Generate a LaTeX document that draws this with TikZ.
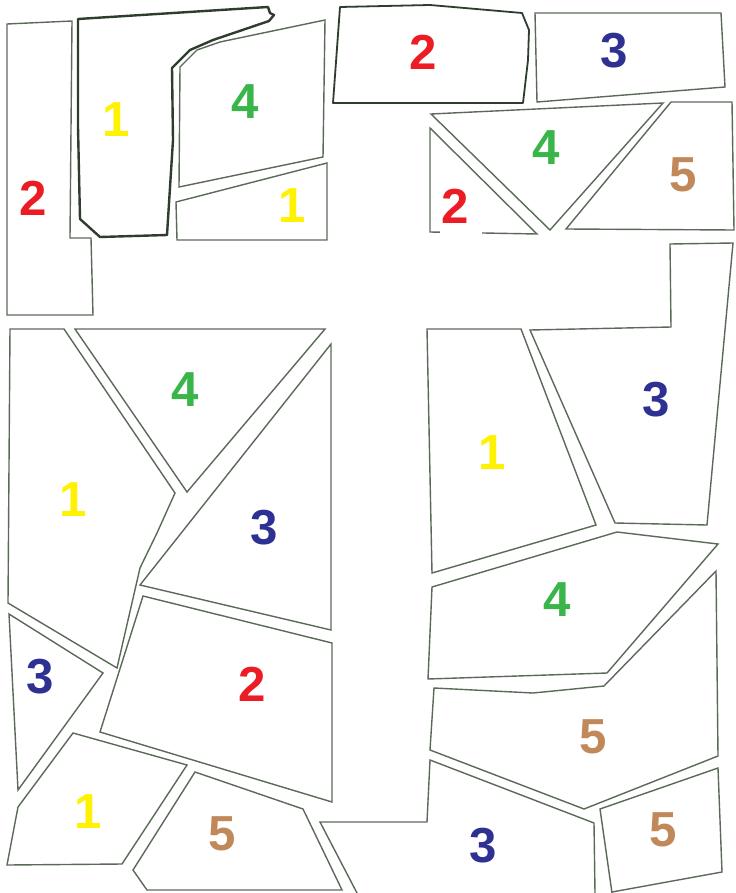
\documentclass[tikz,border=0pt]{standalone}
\usepackage{fontspec}
\setsansfont{Liberation Sans}
\usepackage{xcolor}
\usetikzlibrary{positioning}
\definecolor{edge}{HTML}{5B6A58}
\definecolor{edgeii}{HTML}{2F3D2F}
\definecolor{cred}{HTML}{EC1C24}
\definecolor{cyel}{HTML}{FFF200}
\definecolor{cgrn}{HTML}{39B54A}
\definecolor{cblu}{HTML}{2E3192}
\definecolor{cbrn}{HTML}{C1895A}
\tikzset{
  piece/.style    = {draw=edge, line width=0.35mm, line join=miter},
  piecemid/.style = {draw=edgeii, line width=0.45mm, line join=round},
  piecebold/.style= {draw=edgeii, line width=0.6mm, line join=round},
  num/.style      = {font=\fontsize{35}{38}\selectfont\sffamily\bfseries, inner sep=0pt, outer sep=0pt},
}

\begin{document}
\begin{tikzpicture}[x=0.25mm,y=-0.25mm]
\fill[white] (0,0) rectangle (735,893);
\path[use as bounding box] (0,0) rectangle (735,893);

% ---- top left block ------------------------------------------------------
\draw[piece] (7,24) -- (72,21) -- (70,238) -- (91,238) -- (93,315) -- (7,315) -- cycle;
\draw[piecebold] (78,19) -- (268,7) -- (270,13) -- (274,15) -- (269,21) -- (213,40)
  -- (190,50) -- (172,68) -- (173,140) -- (167,235) -- (100,237) -- (80,219) -- (78,127) -- cycle;
\draw[piece] (180,67) -- (197,50) -- (220,42) -- (325,20) -- (323,157) -- (179,187) -- cycle;
\draw[piece] (176,202) -- (327,163) -- (327,240) -- (177,240) -- cycle;

% ---- top right block -----------------------------------------------------
\draw[piecemid] (340,7) -- (430,5) -- (522,13) -- (529,30) -- (528,60) -- (523,103) -- (333,103) -- cycle;
\draw[piece] (535,13) -- (721,13) -- (725,87) -- (537,102) -- cycle;
\draw[piece] (431,114) -- (663,103) -- (550,230) -- cycle;
\draw[piece] (430,128) -- (537,234) -- (430,232) -- cycle;
\draw[piece] (671,102) -- (732,102) -- (734,230) -- (566,229) -- cycle;

% ---- lower left block ----------------------------------------------------
\draw[piece] (10,329) -- (64,329) -- (175,493) -- (157,533) -- (140,568) -- (117,668) -- (8,603) -- cycle;
\draw[piece] (75,329) -- (325,329) -- (187,492) -- cycle;
\draw[piece] (331,344) -- (331,630) -- (140,585) -- cycle;
\draw[piece] (143,596) -- (332,643) -- (332,802) -- (100,732) -- cycle;
\draw[piece] (9,614) -- (103,673) -- (18,790) -- cycle;
\draw[piece] (73,733) -- (187,765) -- (122,864) -- (7,865) -- (18,807) -- cycle;
\draw[piece] (195,772) -- (303,809) -- (342,890) -- (147,890) -- (133,870) -- cycle;

% ---- lower right block ---------------------------------------------------
\draw[piece] (670,244) -- (733,243) -- (707,525) -- (615,523) -- (530,330) -- (671,327) -- cycle;
\draw[piece] (427,329) -- (521,329) -- (596,525) -- (432,573) -- cycle;
\draw[piece] (432,587) -- (617,532) -- (718,544) -- (607,673) -- (428,679) -- cycle;
\draw[piece] (434,688) -- (533,693) -- (604,686) -- (716,571) -- (718,756) -- (584,809) -- (430,750) -- cycle;
% runs off the lower edge of the sheet
\draw[piece] (357,893) -- (320,822) -- (427,822) -- (430,760) -- (594,823) -- (595,893);
\draw[piece] (612,893) -- (600,809) -- (718,768) -- (722,872) -- (612,892);

% ---- numbers -------------------------------------------------------------
% white patch that hides part of the small triangle's lower edge
\fill[white] (440,185) rectangle (482,237);
\foreach \n/\x/\y/\d/\c in {
  nA/33/198/2/cred, nB/116/120/1/cyel, nC/245/102/4/cgrn, nD/292/206/1/cyel,
  nE/423/52/2/cred, nF/614/51/3/cblu, nG/546/148/4/cgrn, nH/455/206/2/cred,
  nI/683/175/5/cbrn, nJ/656/400/3/cblu, nK/492/453/1/cyel, nL/557/600/4/cgrn,
  nM/593/737/5/cbrn, nN/483/846/3/cblu, nO/663/830/5/cbrn, nP/73/500/1/cyel,
  nQ/185/390/4/cgrn, nR/264/528/3/cblu, nS/252/684/2/cred, nT/40/677/3/cblu,
  nU/88/812/1/cyel, nV/222/834/5/cbrn} {
  \node[num, text=\c] (\n) at (\x,\y) {\d};
}

\end{tikzpicture}
\end{document}
